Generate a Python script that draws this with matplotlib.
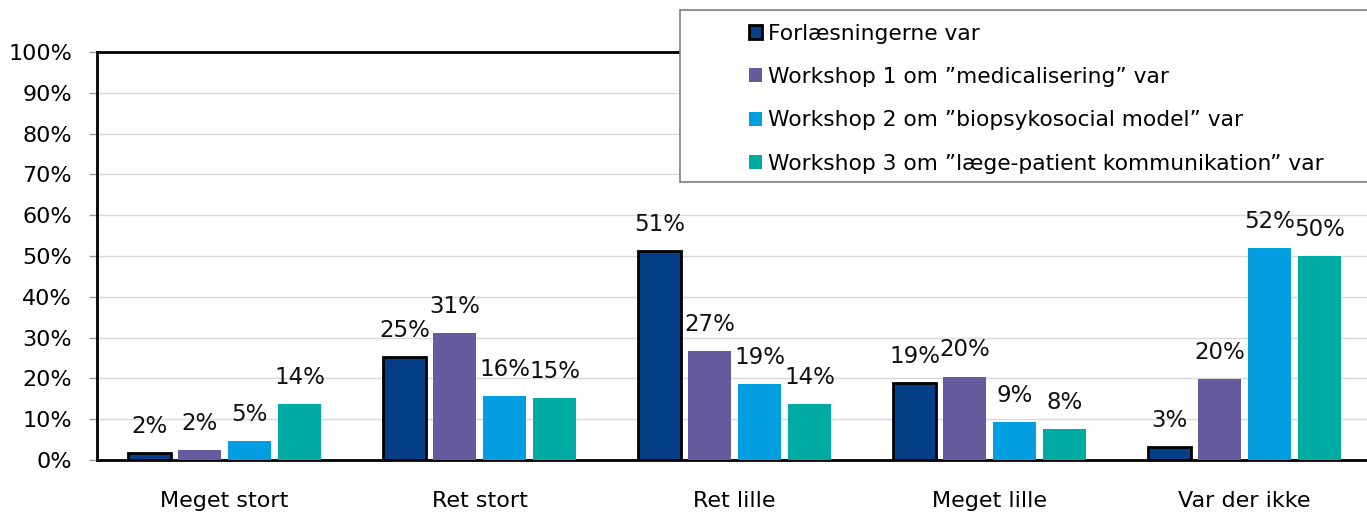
import matplotlib
matplotlib.use("Agg")
import matplotlib.pyplot as plt
from matplotlib.patches import Rectangle
import numpy as np

categories = ["Meget stort", "Ret stort", "Ret lille", "Meget lille", "Var der ikke"]
series_names = [
    "Forlæsningerne var",
    "Workshop 1 om \u201dmedicalisering\u201d var",
    "Workshop 2 om \u201dbiopsykosocial model\u201d var",
    "Workshop 3 om \u201dlæge-patient kommunikation\u201d var",
]
forlaesninger = [1.7, 25.2, 51.2, 18.9, 3.2]
workshop1 = [2.4, 31.1, 26.6, 20.4, 19.9]
workshop2 = [4.6, 15.7, 18.6, 9.3, 52.0]
workshop3 = [13.7, 15.2, 13.7, 7.6, 50.0]
yticks = [0, 10, 20, 30, 40, 50, 60, 70, 80, 90, 100]

colors = ["#043f87", "#675ba0", "#039ee0", "#00aba3"]
series = [forlaesninger, workshop1, workshop2, workshop3]

plt.rcParams['font.family'] = ['DejaVu Sans']
fig = plt.figure(figsize=(13.67, 5.13), dpi=100)
ax = fig.add_axes([97/1367, 53/513, 1275/1367, 408/513])

x = np.arange(len(categories))
offsets = [-0.294, -0.098, 0.098, 0.294]
width = 0.165
handles = []
for i, (vals, col, name) in enumerate(zip(series, colors, series_names)):
    if i == 0:
        b = ax.bar(x + offsets[i], vals, width, color=col, edgecolor="black", linewidth=2, label=name, zorder=3)
    else:
        b = ax.bar(x + offsets[i], vals, width, color=col, linewidth=0, label=name, zorder=3)
    handles.append(b)
    for xi, v in zip(x + offsets[i], vals):
        ax.annotate(f"{round(v):d}%", (xi, v), xytext=(0, 11), textcoords="offset points",
                    ha="center", va="bottom", fontsize=16.5, color="#111111")

ax.set_xlim(-0.5, 4.5)
ax.set_ylim(0, 100)
ax.set_yticks(yticks)
ax.set_yticklabels([f"{t}%" for t in yticks], fontsize=16)
ax.set_xticks(x)
ax.set_xticklabels(categories, fontsize=16)
ax.tick_params(axis="x", length=0, pad=22)
ax.tick_params(axis="y", length=6, width=1, color="#999999", pad=12, direction="out")
ax.yaxis.grid(True, color="#d9d9d9", linewidth=1, zorder=0)
ax.set_axisbelow(True)
for s in ["left", "bottom", "top"]:
    ax.spines[s].set_linewidth(2)
    ax.spines[s].set_color("black")
ax.spines["right"].set_visible(False)

# legend box
fig.patches.append(Rectangle((680/1367, (513-182)/513), 0.6, (182-10)/513,
                             transform=fig.transFigure, facecolor="white",
                             edgecolor="#7f7f7f", linewidth=1.2, zorder=5))
leg = fig.legend(handles=handles, loc="upper left", bbox_to_anchor=(740/1367, (513-15)/513),
                 frameon=False, fontsize=15.7, handlelength=0.6, handleheight=0.6,
                 handletextpad=0.3, labelspacing=1.07, borderaxespad=0)
leg.set_zorder(6)

fig.savefig("out.png", dpi=100)
